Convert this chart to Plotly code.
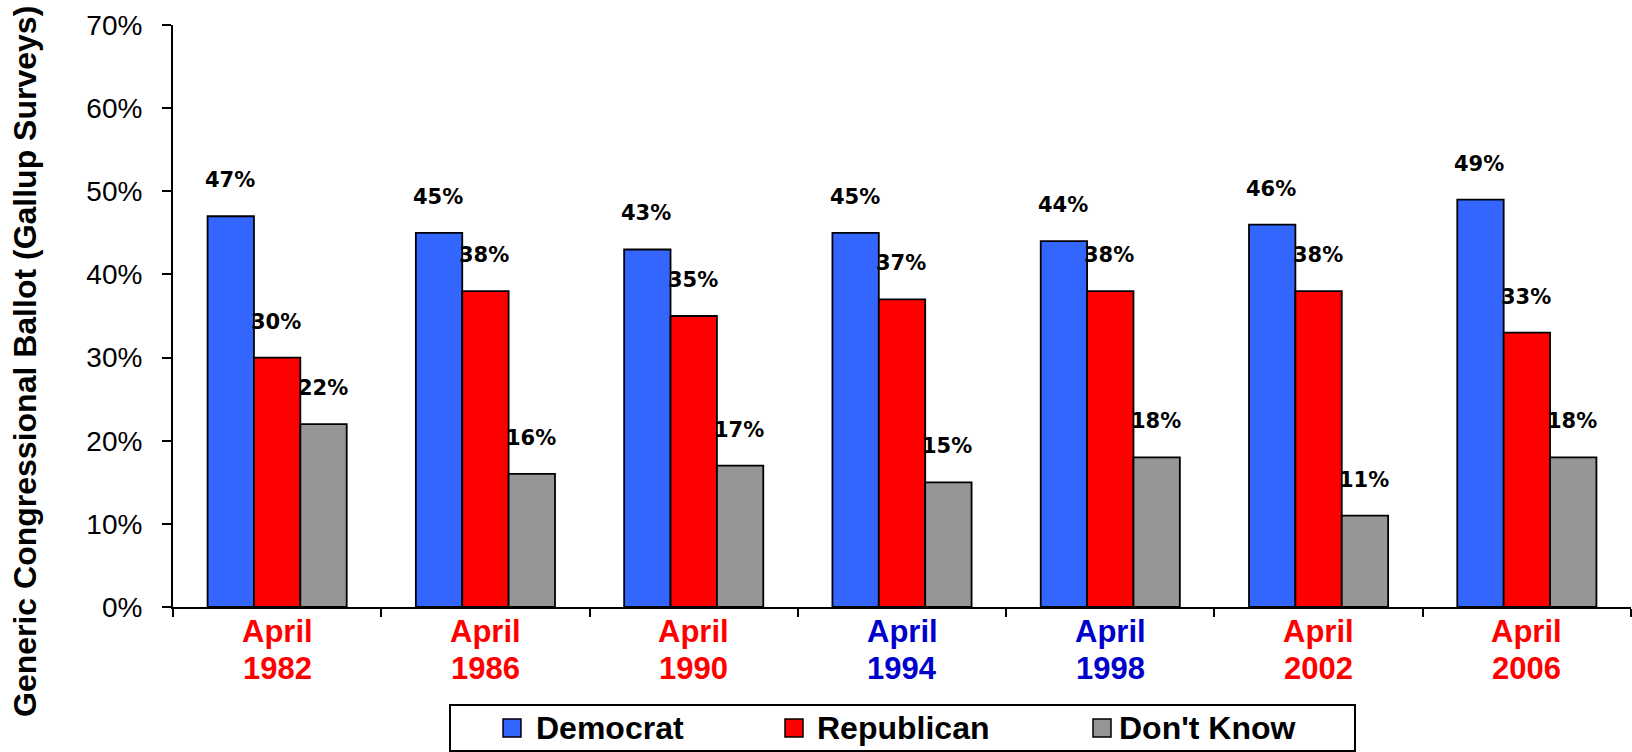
import plotly.graph_objects as go

# ---- data ----
categories = ["April 1982", "April 1986", "April 1990", "April 1994", "April 1998", "April 2002", "April 2006"]
tick_line1 = ["April", "April", "April", "April", "April", "April", "April"]
tick_line2 = ["1982", "1986", "1990", "1994", "1998", "2002", "2006"]
tick_colors = ["#FF0000", "#FF0000", "#FF0000", "#0000CC", "#0000CC", "#FF0000", "#FF0000"]
series_names = ["Democrat", "Republican", "Don't Know"]
democrat = [47, 45, 43, 45, 44, 46, 49]
republican = [30, 38, 35, 37, 38, 38, 33]
dont_know = [22, 16, 17, 15, 18, 11, 18]
series_values = [democrat, republican, dont_know]
series_colors = ["#3366FF", "#FF0000", "#969696"]
y_title = "Generic Congressional Ballot (Gallup Surveys)"

# ---- layout geometry (pixels) ----
W, H = 1632, 752
ML, MR, MT, MB = 173, 1, 25, 145
PW, PH = W - ML - MR, H - MT - MB
BARGAP = 0.332


def px_x(px):
    return (px - ML) / PW


def px_y(py):
    return (H - MB - py) / PH


fig = go.Figure()
for name, vals, col in zip(series_names, series_values, series_colors):
    fig.add_trace(go.Bar(
        x=list(range(len(categories))), y=vals, name=name,
        marker=dict(color=col, line=dict(color="black", width=1.8)),
        showlegend=False, hoverinfo="y+name",
    ))

annotations = []

# category labels (two lines, coloured)
for i, (l1, l2, c) in enumerate(zip(tick_line1, tick_line2, tick_colors)):
    for txt, py in ((l1, 631), (l2, 668)):
        annotations.append(dict(
            x=i, y=px_y(py), xref="x", yref="paper", text=f"<b>{txt}</b>", showarrow=False,
            xanchor="center", yanchor="middle",
            font=dict(family="Liberation Sans", size=31, color=c),
        ))

# data labels centred above each bar
bw = (1 - BARGAP) / len(series_names)
for j, vals in enumerate(series_values):
    off = (j - (len(series_names) - 1) / 2) * bw
    for i, v in enumerate(vals):
        annotations.append(dict(
            x=i + off, y=v, xref="x", yref="y", text=f"<b>{v}%</b>", showarrow=False,
            xanchor="center", yanchor="middle", yshift=36, xshift=-1,
            font=dict(family="DejaVu Sans", size=21, color="black"),
        ))

# y-axis title
annotations.append(dict(
    x=px_x(25), y=px_y(362), xref="paper", yref="paper", text=f"<b>{y_title}</b>",
    textangle=-90, showarrow=False, xanchor="center", yanchor="middle",
    font=dict(family="Liberation Sans", size=32, color="black"),
))

# custom legend
shapes = [dict(type="rect", xref="paper", yref="paper",
               x0=px_x(450), x1=px_x(1355), y0=px_y(751), y1=px_y(705),
               line=dict(color="black", width=2), fillcolor="white", layer="above")]
sw_left = [503, 785, 1093]
txt_left = [534, 815, 1117]
cy = 728
for name, col, sl, tl in zip(series_names, series_colors, sw_left, txt_left):
    shapes.append(dict(type="rect", xref="paper", yref="paper",
                       x0=px_x(sl), x1=px_x(sl + 18), y0=px_y(cy + 9), y1=px_y(cy - 9),
                       line=dict(color="black", width=1.5), fillcolor=col, layer="above"))
    annotations.append(dict(
        x=px_x(tl), y=px_y(cy), xref="paper", yref="paper", text=f"<b>{name}</b>",
        showarrow=False, xanchor="left", yanchor="middle",
        font=dict(family="Liberation Sans", size=32, color="black"),
    ))

fig.update_layout(
    width=W, height=H,
    margin=dict(l=ML, r=MR, t=MT, b=MB, autoexpand=False),
    paper_bgcolor="white", plot_bgcolor="white",
    barmode="group", bargap=BARGAP, bargroupgap=0,
    showlegend=False,
    annotations=annotations, shapes=shapes,
)
fig.update_xaxes(
    type="linear", range=[-0.5, len(categories) - 0.5],
    tickmode="array", tickvals=list(range(len(categories))), showticklabels=False,
    ticks="", showline=True, linecolor="black", linewidth=2, showgrid=False, zeroline=False,
    minor=dict(tickmode="array",
               tickvals=[i - 0.5 for i in range(len(categories) + 1)],
               ticks="outside", ticklen=8, tickwidth=2, tickcolor="black"),
)
fig.update_yaxes(
    range=[0, 70], tickmode="linear", tick0=0, dtick=10, ticksuffix="%",
    ticks="outside", ticklen=9, tickwidth=2, tickcolor="black",
    showline=True, linecolor="black", linewidth=2, showgrid=False, zeroline=False,
    tickfont=dict(family="Liberation Sans", size=28, color="black"),
    ticklabelstandoff=14,
)

fig.write_html("out.html", config={"displayModeBar": False},
               post_script="document.body.style.margin='0';")
